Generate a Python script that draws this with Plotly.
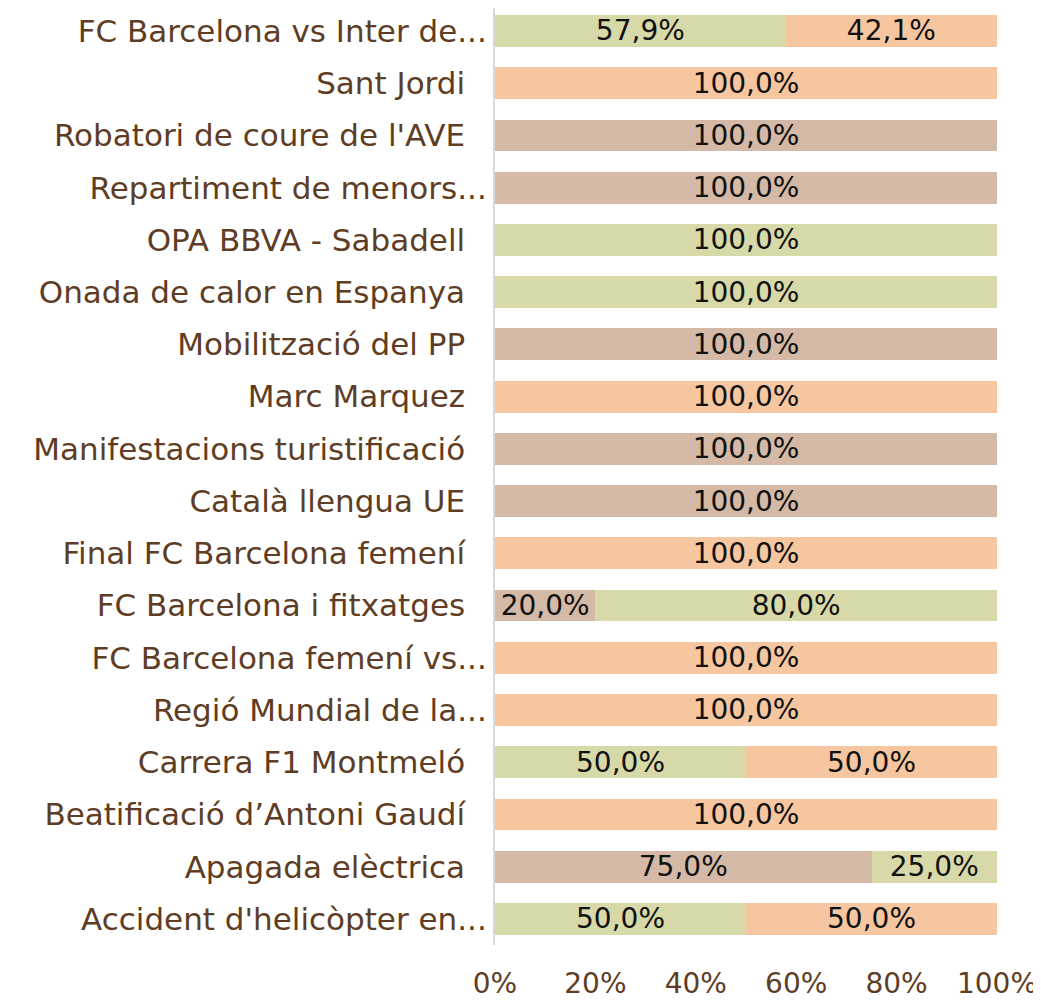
import plotly.graph_objects as go

categories = [
    "FC Barcelona vs Inter de...",
    "Sant Jordi",
    "Robatori de coure de l'AVE",
    "Repartiment de menors...",
    "OPA BBVA - Sabadell",
    "Onada de calor en Espanya",
    "Mobilització del PP",
    "Marc Marquez",
    "Manifestacions turistificació",
    "Català llengua UE",
    "Final FC Barcelona femení",
    "FC Barcelona i fitxatges",
    "FC Barcelona femení vs...",
    "Regió Mundial de la...",
    "Carrera F1 Montmeló",
    "Beatificació d’Antoni Gaudí",
    "Apagada elèctrica",
    "Accident d'helicòpter en...",
]
tan_vals = [0, 0, 100, 100, 0, 0, 100, 0, 100, 100, 0, 20, 0, 0, 0, 0, 75, 0]
green_vals = [57.9, 0, 0, 0, 100, 100, 0, 0, 0, 0, 0, 80, 0, 0, 50, 0, 25, 50]
peach_vals = [42.1, 100, 0, 0, 0, 0, 0, 100, 0, 0, 100, 0, 100, 100, 50, 100, 0, 50]

series = [
    ("tan", tan_vals, "#D4B9A6"),
    ("green", green_vals, "#D8D9A8"),
    ("peach", peach_vals, "#F5C6A0"),
]

FONT = "DejaVu Sans"
LABEL_COLOR = "#5E3D24"
YSIZE = 31
SIZE = 28

# pad non-truncated labels so they sit further from the axis, like the reference
tick_text = [c if c.endswith("...") else c + "\u2002\u2009" for c in categories]

fig = go.Figure()
for name, vals, color in series:
    fig.add_trace(go.Bar(
        y=categories,
        x=[v if v > 0 else None for v in vals],
        name=name,
        orientation="h",
        marker=dict(color=color, line=dict(width=0)),
        text=[f"{v:.1f}%".replace(".", ",") if v > 0 else "" for v in vals],
        textposition="inside",
        insidetextanchor="middle",
        textangle=0,
        textfont=dict(family=FONT, size=SIZE, color="#111111"),
        constraintext="none",
        hoverinfo="skip",
    ))

# the page body adds an 8px offset; figure is sized to compensate
fig.update_layout(
    barmode="stack",
    bargap=0.39,
    width=1033,
    height=992,
    margin=dict(l=487, r=44, t=0, b=55),
    plot_bgcolor="white",
    paper_bgcolor="white",
    showlegend=False,
    uniformtext=dict(minsize=SIZE, mode="show"),
    font=dict(family=FONT, color=LABEL_COLOR),
)
fig.update_xaxes(
    range=[0, 100],
    dtick=20,
    ticksuffix="%",
    showgrid=False,
    zeroline=False,
    showline=False,
    tickfont=dict(family=FONT, size=SIZE, color=LABEL_COLOR),
    ticklabelstandoff=19,
    automargin=False,
    fixedrange=True,
)
fig.update_yaxes(
    range=[17.5, -0.44],
    tickmode="array",
    tickvals=categories,
    ticktext=tick_text,
    showline=True,
    linecolor="#D9D9D9",
    linewidth=2,
    showgrid=False,
    ticks="",
    ticklabelstandoff=0,
    automargin=False,
    tickfont=dict(family=FONT, size=YSIZE, color=LABEL_COLOR),
)

fig.write_html("out.html")
